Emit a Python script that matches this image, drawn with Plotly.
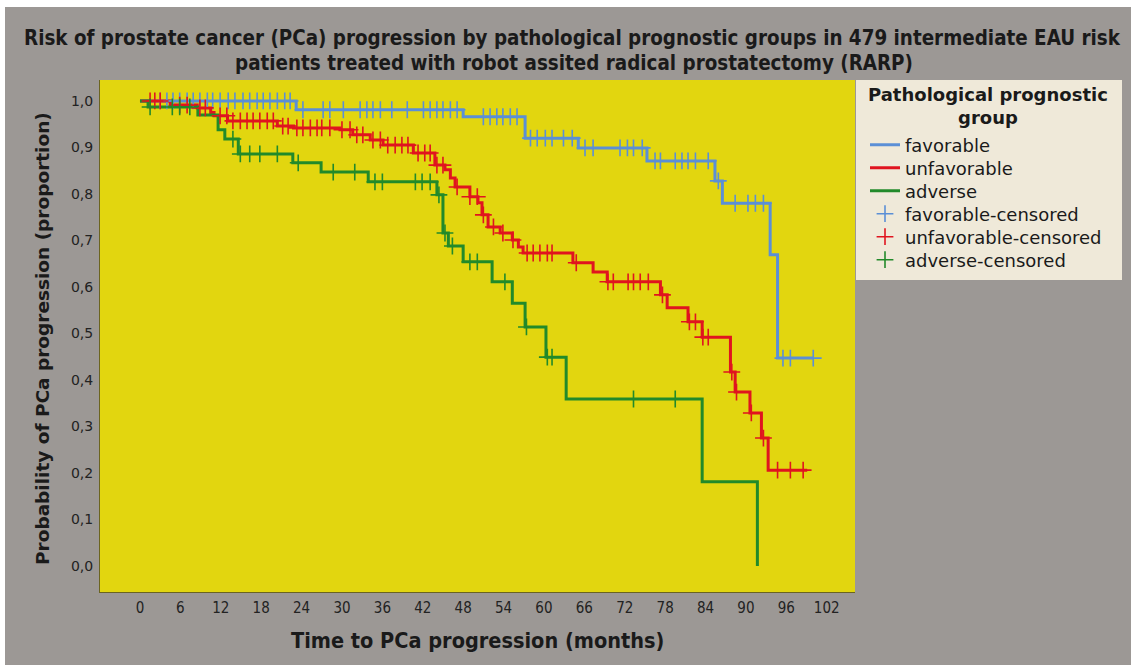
import plotly.graph_objects as go

# ---------------- data ----------------
fav_times = [0, 23.2, 48.0, 57.2, 65.1, 75.3, 85.4, 86.5, 93.6, 94.7]
fav_surv = [1.0, 0.981, 0.966, 0.920, 0.899, 0.871, 0.828, 0.780, 0.669, 0.447]
fav_end = 100.0
fav_cens = [3.0, 4.0, 4.9, 5.9, 7.0, 7.9, 8.9, 10.0, 10.8, 11.9, 13.1, 14.1, 15.3, 16.3,
            17.4, 18.3, 19.3, 20.4, 21.5, 22.3, 24.2, 27.2, 28.2, 30.2, 32.7, 33.7, 34.6,
            35.7, 37.4, 39.7, 42.1, 43.1, 44.1, 45.0, 46.1, 47.1, 51.0, 52.0, 53.0, 53.9,
            55.0, 56.0, 58.0, 59.0, 60.2, 61.2, 62.9, 64.2, 66.1, 67.3, 71.3, 72.4, 73.3,
            74.6, 76.5, 77.3, 79.5, 80.5, 81.4, 82.5, 84.4, 85.9, 88.4, 90.3, 91.4, 92.6,
            95.5, 96.6, 100.0]

unf_times = [0, 4.5, 8.5, 10.5, 11.0, 13.0, 20.4, 22.8, 29.7, 31.6, 34.2, 36.1, 40.6, 43.8,
             45.3, 46.1, 46.8, 49.0, 50.2, 50.8, 51.7, 53.5, 55.3, 56.2, 56.9, 64.3, 67.3,
             69.4, 77.3, 78.3, 81.4, 83.5, 87.7, 88.4, 90.6, 92.3, 93.3]
unf_surv = [1.0, 0.991, 0.985, 0.975, 0.968, 0.957, 0.946, 0.942, 0.938, 0.927, 0.916, 0.905,
            0.888, 0.862, 0.852, 0.834, 0.815, 0.794, 0.781, 0.755, 0.729, 0.716, 0.701,
            0.686, 0.673, 0.652, 0.632, 0.611, 0.583, 0.555, 0.525, 0.492, 0.417, 0.374,
            0.329, 0.275, 0.206]
unf_end = 99.1
unf_cens = [1.5, 2.2, 3.0, 5.9, 7.0, 8.9, 9.7, 11.9, 12.9, 13.8, 14.9, 15.9, 16.8, 17.8,
            18.9, 19.8, 21.2, 22.0, 23.3, 24.2, 25.3, 26.3, 27.0, 28.2, 30.0, 31.2, 32.2,
            33.1, 34.6, 35.7, 36.8, 37.9, 38.9, 39.8, 41.3, 42.3, 43.1, 44.1, 45.0, 47.1,
            49.0, 50.1, 51.0, 52.5, 53.9, 55.4, 57.5, 58.4, 59.4, 60.5, 61.2, 64.8, 69.5,
            70.3, 72.5, 73.3, 74.3, 75.5, 77.6, 81.6, 82.5, 83.6, 84.4, 87.9, 88.6, 90.8,
            92.6, 94.7, 96.6, 98.5]

adv_times = [0, 1.2, 8.6, 11.6, 12.6, 14.6, 22.7, 26.9, 33.9, 44.1, 45.0, 45.8, 48.0, 52.3,
             55.3, 57.2, 60.3, 63.3, 83.5, 91.7]
adv_surv = [1.0, 0.987, 0.970, 0.938, 0.918, 0.886, 0.867, 0.847, 0.826, 0.798, 0.716, 0.688,
            0.654, 0.611, 0.565, 0.514, 0.449, 0.359, 0.181, 0.0]
adv_end = 91.7
adv_cens = [1.5, 4.8, 5.9, 7.4, 13.8, 14.9, 16.3, 17.8, 20.4, 23.5, 28.7, 31.9, 34.9, 36.0,
            40.9, 41.9, 43.1, 44.4, 45.3, 46.4, 49.0, 50.1, 54.2, 57.4, 60.5, 61.2, 73.3, 79.5]

x_ticks = list(range(0, 103, 6))
y_ticks = [i / 10 for i in range(11)]
y_tick_text = [f"{v:.1f}".replace(".", ",") for v in y_ticks]

title_lines = ["Risk of prostate cancer (PCa) progression by pathological prognostic groups in 479 intermediate EAU risk",
               "patients treated with robot assited radical prostatectomy (RARP)"]

# ---------------- style ----------------
W, H = 1131, 665
L, R, T, B = 100, 276, 80, 73
pw, ph = W - L - R, H - T - B

GRAY = "#9c9895"
YELLOW = "#e2d60f"
BEIGE = "#efe9d9"
BLUE = "#5b8fd6"
RED = "#e0141f"
GREEN = "#228a2a"
COND = "DejaVu Sans Condensed, Liberation Sans Narrow, Arial Narrow, DejaVu Sans"
SANS = "DejaVu Sans, Verdana, sans-serif"
LEGEND_ROWS = [145, 168, 191, 214, 237, 260]


def step_xy(times, surv, end):
    xs = list(times)
    ys = list(surv)
    if end > xs[-1]:
        xs.append(end)
        ys.append(ys[-1])
    return xs, ys


def level_at(times, surv, t):
    v = surv[0]
    for tt, s in zip(times, surv):
        if tt <= t:
            v = s
    return v


def pxx(px):
    return (px - L) / pw


def pxy(py):
    return (H - B - py) / ph


fig = go.Figure()

groups = [
    ("favorable", fav_times, fav_surv, fav_end, fav_cens, BLUE),
    ("unfavorable", unf_times, unf_surv, unf_end, unf_cens, RED),
    ("adverse", adv_times, adv_surv, adv_end, adv_cens, GREEN),
]

legend_ids = ["legend", "legend2", "legend3", "legend4", "legend5", "legend6"]
k = 0
for name, t, s, e, c, col in groups:
    xs, ys = step_xy(t, s, e)
    fig.add_trace(go.Scatter(x=xs, y=ys, mode="lines", name=name, legend=legend_ids[k],
                             line=dict(color=col, width=3, shape="hv")))
    k += 1

for name, t, s, e, c, col in groups:
    fig.add_trace(go.Scatter(
        x=c, y=[level_at(t, s, v) for v in c], mode="markers",
        name=f"{name}-censored", legend=legend_ids[k],
        marker=dict(symbol="cross-thin-open", size=12, color=col,
                    line=dict(color=col, width=1.6))))
    k += 1

shapes = [
    dict(type="rect", xref="paper", yref="paper", x0=pxx(5), x1=pxx(W + 5),
         y0=pxy(H + 5), y1=pxy(7), fillcolor=GRAY, line=dict(width=0), layer="below"),
    dict(type="rect", xref="x domain", yref="y domain", x0=0, x1=1, y0=0, y1=1,
         fillcolor=YELLOW, line=dict(width=0), layer="below"),
    dict(type="rect", xref="paper", yref="paper", x0=pxx(856), x1=pxx(1122),
         y0=pxy(280), y1=pxy(80), fillcolor=BEIGE, line=dict(width=0), layer="below"),
]

annotations = [
    dict(text="Time to PCa progression (months)", xref="paper", yref="paper",
         x=0.5, y=pxy(640), xanchor="center", yanchor="middle", showarrow=False,
         font=dict(family=COND, size=21.5, color="#1a1a1a", weight="bold")),
    dict(text="Probability of PCa progression (proportion)", xref="paper", yref="paper",
         x=pxx(42), y=pxy(339), xanchor="center", yanchor="middle", showarrow=False,
         textangle=-90, font=dict(family=SANS, size=18.5, color="#1a1a1a", weight="bold")),
    dict(text=title_lines[0], xref="paper", yref="paper", x=pxx(572), y=pxy(38),
         xanchor="center", yanchor="middle", showarrow=False,
         font=dict(family=COND, size=20.4, color="#1a1a1a", weight="bold")),
    dict(text=title_lines[1], xref="paper", yref="paper", x=pxx(574), y=pxy(62.5),
         xanchor="center", yanchor="middle", showarrow=False,
         font=dict(family=COND, size=20.4, color="#1a1a1a", weight="bold")),
    dict(text="Pathological prognostic<br>group", xref="paper", yref="paper",
         x=pxx(988), y=pxy(106), xanchor="center", yanchor="middle", showarrow=False,
         align="center",
         font=dict(family=SANS, size=18, color="#1a1a1a", weight="bold")),
]

layout_legends = {}
for lid, row in zip(legend_ids, LEGEND_ROWS):
    layout_legends[lid] = dict(
        x=pxx(865), y=pxy(row), xanchor="left", yanchor="middle",
        bgcolor="rgba(0,0,0,0)",
        font=dict(family=SANS, size=18, color="#1a1a1a"),
        itemwidth=30,
    )

fig.update_layout(
    width=W, height=H,
    margin=dict(l=L, r=R, t=T, b=B),
    paper_bgcolor="white",
    plot_bgcolor="rgba(0,0,0,0)",
    shapes=shapes,
    annotations=annotations,
    showlegend=True,
    xaxis=dict(range=[-5.94, 106.2], tickvals=x_ticks, ticktext=[str(v) for v in x_ticks],
               showgrid=False, zeroline=False, showline=True, linecolor="#6b6420",
               linewidth=1, ticks="outside", ticklen=2, tickcolor="rgba(0,0,0,0)",
               tickfont=dict(family=COND, size=15, color="#222")),
    yaxis=dict(range=[-0.056, 1.045], tickvals=y_ticks, ticktext=y_tick_text,
               showgrid=False, zeroline=False, showline=True, linecolor="#6b6420",
               linewidth=1, ticks="outside", ticklen=3, tickcolor="rgba(0,0,0,0)",
               tickfont=dict(family=SANS, size=14, color="#222")),
    **layout_legends,
)

fig.write_html("out.html", config={"displayModeBar": False},
               post_script="document.body.style.margin='0';")
